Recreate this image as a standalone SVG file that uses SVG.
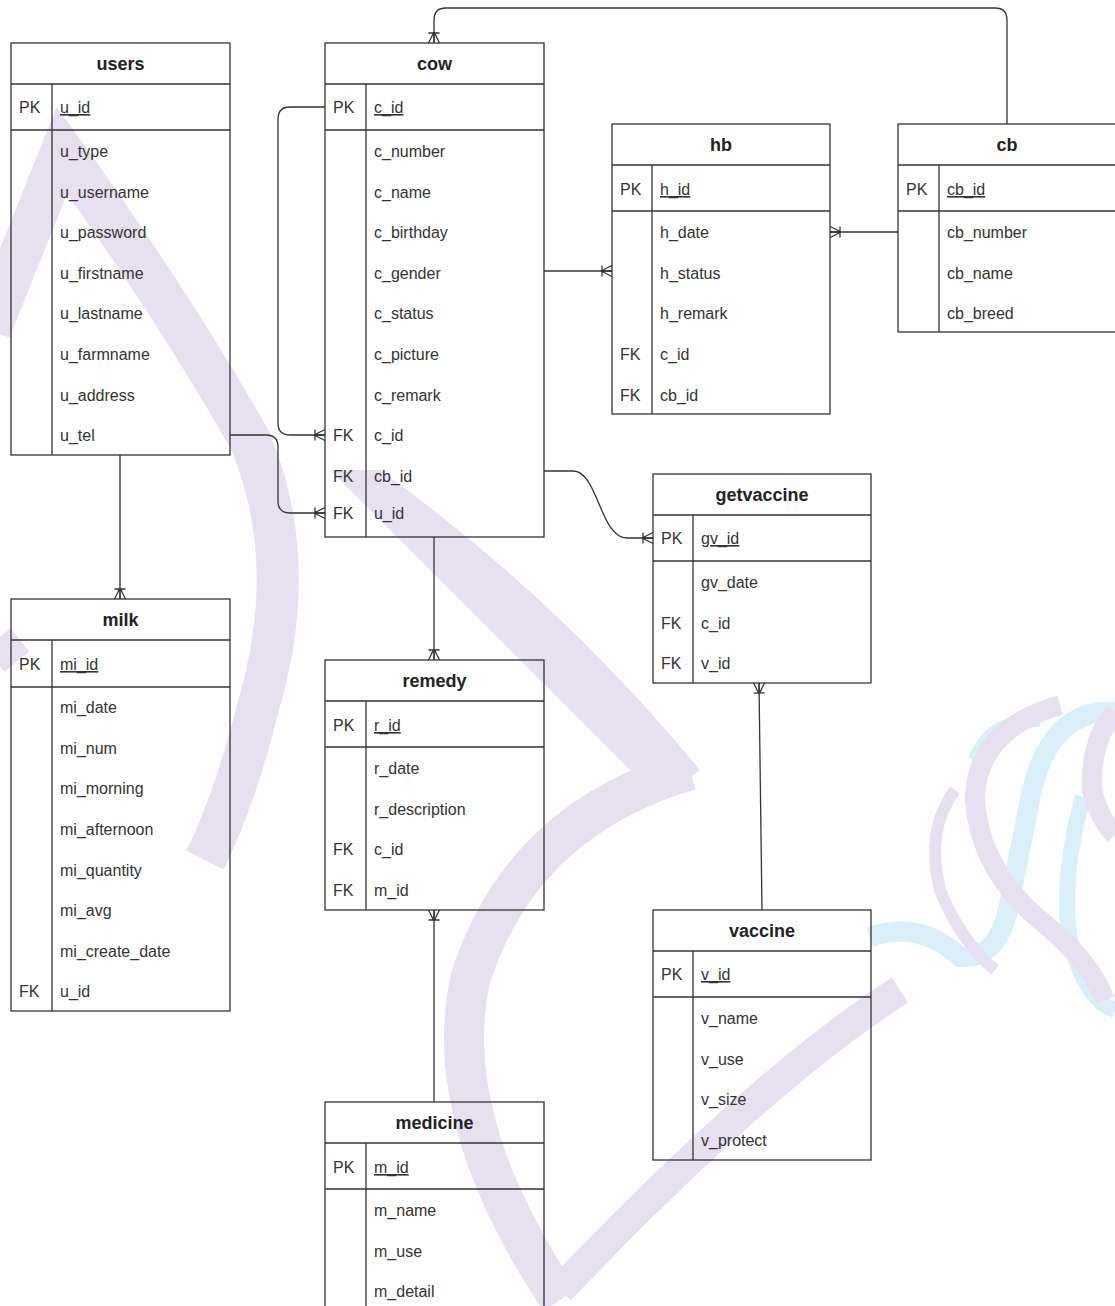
<svg xmlns="http://www.w3.org/2000/svg" width="1115" height="1306" viewBox="0 0 1115 1306">
<style>
.box{fill:none;stroke:#333;stroke-width:1.3}
.ln{stroke:#333;stroke-width:1.3}
.t{font-family:"Liberation Sans",Arial,sans-serif;font-size:18px;font-weight:bold;text-anchor:middle;fill:#222}
.a{font-family:"Liberation Sans",Arial,sans-serif;font-size:16px;fill:#333}
.pk{text-decoration:underline}
.c{fill:none;stroke:#333;stroke-width:1.3}
.wm{fill:none;stroke:#e6e0f1}
.wc{fill:none;stroke:#d9eff9}
</style>
<defs>
<marker id="many" markerUnits="userSpaceOnUse" markerWidth="16" markerHeight="16" viewBox="-13 -8 16 16" refX="0" refY="0" orient="auto" overflow="visible">
<path d="M-11,0 L0,-5.5 M-11,0 L0,5.5 M-11,0 L0,0 M-10,-5.5 L-10,5.5" fill="none" stroke="#333" stroke-width="1.3"/>
</marker>
</defs>
<rect width="1115" height="1306" fill="#fff"/>
<g id="watermark">
<path class="wm" stroke-width="42" d="M-10,330 L62,150 Q170,300 250,440 Q300,560 260,700 Q235,800 205,860"/>
<path class="wm" stroke-width="30" d="M20,640 L-5,660"/>
<path d="M330,470 L380,470 Q560,600 700,770 L660,800 Q520,660 330,470 Z" fill="#e6e0f1"/>
<path class="wm" stroke-width="40" d="M690,770 Q520,820 470,980 Q440,1120 560,1300"/>
<path class="wm" stroke-width="30" d="M560,1290 Q760,1080 900,990"/>
<path class="wc" stroke-width="20" d="M870,937 Q920,920 960,957 Q1000,960 1010,900 L1030,800 Q1045,720 1100,712 L1115,712"/>
<path class="wc" stroke-width="16" d="M1083,797 Q1060,880 1070,940 Q1085,1000 1115,1010"/>
<path class="wc" stroke-width="14" d="M1040,720 Q990,720 975,760"/>
<path class="wm" stroke-width="12" d="M955,790 Q925,830 940,890 Q960,940 995,970"/>
<path class="wm" stroke-width="20" d="M1060,705 Q975,730 975,800 Q980,870 1040,920 Q1090,960 1105,1000"/>
<path class="wm" stroke-width="20" d="M1115,712 Q1090,740 1092,790 Q1100,820 1115,835"/>
</g>
<g id="connectors">
<path class="c" d="M1007,124 L1007,20 Q1007,8 995,8 L446,8 Q434,8 434,20 L434,43" marker-end="url(#many)"/>
<path class="c" d="M325,107 L290,107 Q278,107 278,119 L278,423 Q278,435 290,435 L325,435" marker-end="url(#many)"/>
<path class="c" d="M230,435 L266,435 Q278,435 278,447 L278,501 Q278,513 290,513 L325,513" marker-end="url(#many)"/>
<path class="c" d="M544,271 L612,271" marker-end="url(#many)"/>
<path class="c" d="M898,232 L830,232" marker-end="url(#many)"/>
<path class="c" d="M544,471 L573,471 C598,471 600,538 627,538 L653,538" marker-end="url(#many)"/>
<path class="c" d="M120,455 L120,599" marker-end="url(#many)"/>
<path class="c" d="M434,537 L434,660" marker-end="url(#many)"/>
<path class="c" d="M434,1102 L434,910" marker-end="url(#many)"/>
<path class="c" d="M762,910 L759,683" marker-end="url(#many)"/>
</g>
<g id="users">
<rect class="box" x="11" y="43" width="219" height="412"/>
<line class="ln" x1="11" y1="84" x2="230" y2="84"/>
<line class="ln" x1="11" y1="130" x2="230" y2="130"/>
<line class="ln" x1="52" y1="84" x2="52" y2="455"/>
<text class="t" x="120.5" y="70">users</text>
<text class="a" x="19" y="113">PK</text>
<text class="a pk" x="60" y="113">u_id</text>
<text class="a" x="60" y="157">u_type</text>
<text class="a" x="60" y="198">u_username</text>
<text class="a" x="60" y="238">u_password</text>
<text class="a" x="60" y="279">u_firstname</text>
<text class="a" x="60" y="319">u_lastname</text>
<text class="a" x="60" y="360">u_farmname</text>
<text class="a" x="60" y="401">u_address</text>
<text class="a" x="60" y="441">u_tel</text>
</g>
<g id="cow">
<rect class="box" x="325" y="43" width="219" height="494"/>
<line class="ln" x1="325" y1="84" x2="544" y2="84"/>
<line class="ln" x1="325" y1="130" x2="544" y2="130"/>
<line class="ln" x1="366" y1="84" x2="366" y2="537"/>
<text class="t" x="434.5" y="70">cow</text>
<text class="a" x="333" y="113">PK</text>
<text class="a pk" x="374" y="113">c_id</text>
<text class="a" x="374" y="157">c_number</text>
<text class="a" x="374" y="198">c_name</text>
<text class="a" x="374" y="238">c_birthday</text>
<text class="a" x="374" y="279">c_gender</text>
<text class="a" x="374" y="319">c_status</text>
<text class="a" x="374" y="360">c_picture</text>
<text class="a" x="374" y="401">c_remark</text>
<text class="a" x="333" y="441">FK</text>
<text class="a" x="374" y="441">c_id</text>
<text class="a" x="333" y="482">FK</text>
<text class="a" x="374" y="482">cb_id</text>
<text class="a" x="333" y="519">FK</text>
<text class="a" x="374" y="519">u_id</text>
</g>
<g id="hb">
<rect class="box" x="612" y="124" width="218" height="290"/>
<line class="ln" x1="612" y1="165" x2="830" y2="165"/>
<line class="ln" x1="612" y1="211" x2="830" y2="211"/>
<line class="ln" x1="652" y1="165" x2="652" y2="414"/>
<text class="t" x="721" y="151">hb</text>
<text class="a" x="620" y="195">PK</text>
<text class="a pk" x="660" y="195">h_id</text>
<text class="a" x="660" y="238">h_date</text>
<text class="a" x="660" y="279">h_status</text>
<text class="a" x="660" y="319">h_remark</text>
<text class="a" x="620" y="360">FK</text>
<text class="a" x="660" y="360">c_id</text>
<text class="a" x="620" y="401">FK</text>
<text class="a" x="660" y="401">cb_id</text>
</g>
<g id="cb">
<rect class="box" x="898" y="124" width="218" height="208"/>
<line class="ln" x1="898" y1="165" x2="1116" y2="165"/>
<line class="ln" x1="898" y1="211" x2="1116" y2="211"/>
<line class="ln" x1="939" y1="165" x2="939" y2="332"/>
<text class="t" x="1007" y="151">cb</text>
<text class="a" x="906" y="195">PK</text>
<text class="a pk" x="947" y="195">cb_id</text>
<text class="a" x="947" y="238">cb_number</text>
<text class="a" x="947" y="279">cb_name</text>
<text class="a" x="947" y="319">cb_breed</text>
</g>
<g id="getvaccine">
<rect class="box" x="653" y="474" width="218" height="209"/>
<line class="ln" x1="653" y1="515" x2="871" y2="515"/>
<line class="ln" x1="653" y1="561" x2="871" y2="561"/>
<line class="ln" x1="693" y1="515" x2="693" y2="683"/>
<text class="t" x="762" y="501">getvaccine</text>
<text class="a" x="661" y="544">PK</text>
<text class="a pk" x="701" y="544">gv_id</text>
<text class="a" x="701" y="588">gv_date</text>
<text class="a" x="661" y="629">FK</text>
<text class="a" x="701" y="629">c_id</text>
<text class="a" x="661" y="669">FK</text>
<text class="a" x="701" y="669">v_id</text>
</g>
<g id="milk">
<rect class="box" x="11" y="599" width="219" height="412"/>
<line class="ln" x1="11" y1="640" x2="230" y2="640"/>
<line class="ln" x1="11" y1="687" x2="230" y2="687"/>
<line class="ln" x1="52" y1="640" x2="52" y2="1011"/>
<text class="t" x="120.5" y="626">milk</text>
<text class="a" x="19" y="670">PK</text>
<text class="a pk" x="60" y="670">mi_id</text>
<text class="a" x="60" y="713">mi_date</text>
<text class="a" x="60" y="754">mi_num</text>
<text class="a" x="60" y="794">mi_morning</text>
<text class="a" x="60" y="835">mi_afternoon</text>
<text class="a" x="60" y="876">mi_quantity</text>
<text class="a" x="60" y="916">mi_avg</text>
<text class="a" x="60" y="957">mi_create_date</text>
<text class="a" x="19" y="997">FK</text>
<text class="a" x="60" y="997">u_id</text>
</g>
<g id="remedy">
<rect class="box" x="325" y="660" width="219" height="250"/>
<line class="ln" x1="325" y1="701" x2="544" y2="701"/>
<line class="ln" x1="325" y1="747" x2="544" y2="747"/>
<line class="ln" x1="366" y1="701" x2="366" y2="910"/>
<text class="t" x="434.5" y="687">remedy</text>
<text class="a" x="333" y="731">PK</text>
<text class="a pk" x="374" y="731">r_id</text>
<text class="a" x="374" y="774">r_date</text>
<text class="a" x="374" y="815">r_description</text>
<text class="a" x="333" y="855">FK</text>
<text class="a" x="374" y="855">c_id</text>
<text class="a" x="333" y="896">FK</text>
<text class="a" x="374" y="896">m_id</text>
</g>
<g id="vaccine">
<rect class="box" x="653" y="910" width="218" height="250"/>
<line class="ln" x1="653" y1="951" x2="871" y2="951"/>
<line class="ln" x1="653" y1="997" x2="871" y2="997"/>
<line class="ln" x1="693" y1="951" x2="693" y2="1160"/>
<text class="t" x="762" y="937">vaccine</text>
<text class="a" x="661" y="980">PK</text>
<text class="a pk" x="701" y="980">v_id</text>
<text class="a" x="701" y="1024">v_name</text>
<text class="a" x="701" y="1065">v_use</text>
<text class="a" x="701" y="1105">v_size</text>
<text class="a" x="701" y="1146">v_protect</text>
</g>
<g id="medicine">
<rect class="box" x="325" y="1102" width="219" height="210"/>
<line class="ln" x1="325" y1="1143" x2="544" y2="1143"/>
<line class="ln" x1="325" y1="1189" x2="544" y2="1189"/>
<line class="ln" x1="366" y1="1143" x2="366" y2="1312"/>
<text class="t" x="434.5" y="1129">medicine</text>
<text class="a" x="333" y="1173">PK</text>
<text class="a pk" x="374" y="1173">m_id</text>
<text class="a" x="374" y="1216">m_name</text>
<text class="a" x="374" y="1257">m_use</text>
<text class="a" x="374" y="1297">m_detail</text>
</g>
</svg>
